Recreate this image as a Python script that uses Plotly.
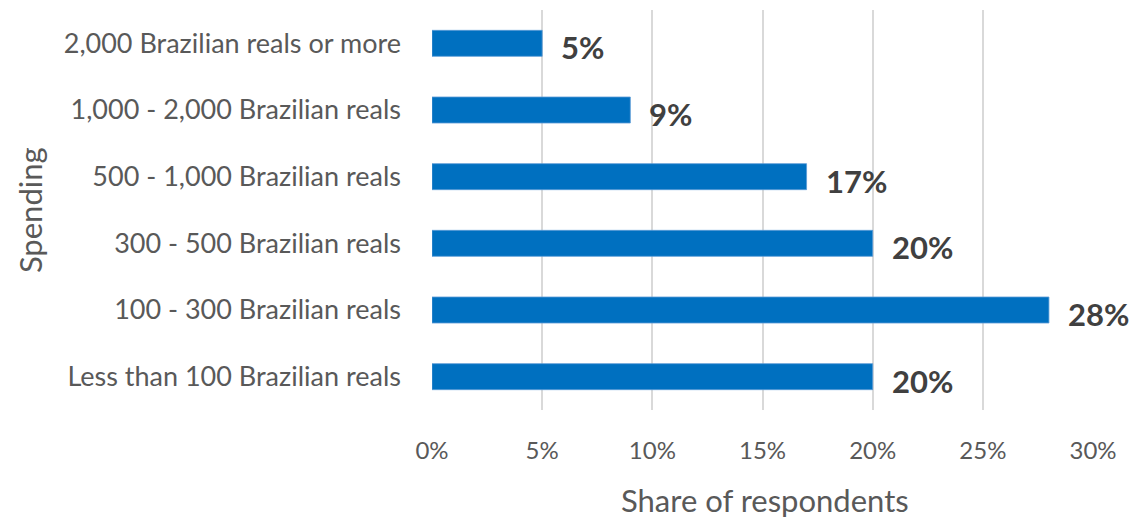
import plotly.graph_objects as go

categories = [
    "Less than 100 Brazilian reals",
    "100 - 300 Brazilian reals",
    "300 - 500 Brazilian reals",
    "500 - 1,000 Brazilian reals",
    "1,000 - 2,000 Brazilian reals",
    "2,000 Brazilian reals or more",
]
values = [20, 28, 20, 17, 9, 5]
tick_vals = [0, 5, 10, 15, 20, 25, 30]
tick_text = ["0%", "5%", "10%", "15%", "20%", "25%", "30%"]

FONT = "Lato"

fig = go.Figure(go.Bar(
    x=values, y=categories, orientation="h",
    marker=dict(color="#0070C0", line=dict(color="#5B9BD5", width=0.8)),
    width=0.39,
))

for v, c in zip(values, categories):
    fig.add_annotation(x=v, y=c, text=f"<b>{v}%</b>", showarrow=False,
                       xanchor="left", xshift=17, yshift=-4,
                       font=dict(family=FONT, size=31, color="#404040"))

fig.add_annotation(xref="paper", yref="paper", x=0.504, y=-0.225,
                   xanchor="center", yanchor="middle", showarrow=False,
                   text="Share of respondents",
                   font=dict(family=FONT, size=31, color="#595959"))
fig.add_annotation(xref="paper", yref="paper", x=-0.608, y=0.5,
                   xanchor="center", yanchor="middle", showarrow=False,
                   text="Spending", textangle=-90,
                   font=dict(family=FONT, size=31, color="#595959"))

fig.update_layout(
    width=1130, height=511,
    margin=dict(l=424, r=45, t=2, b=109),
    plot_bgcolor="white", paper_bgcolor="white",
    showlegend=False,
    font=dict(family=FONT, color="#595959"),
    xaxis=dict(range=[0, 30], tickvals=tick_vals, ticktext=tick_text,
               showgrid=True, gridcolor="#D9D9D9", gridwidth=2,
               zeroline=False, tickfont=dict(size=24, color="#595959"),
               ticks="", ticklabelstandoff=24, automargin=False),
    yaxis=dict(tickfont=dict(size=27, color="#595959"), ticks="",
               ticklabelstandoff=30, automargin=False),
)

fig.write_html("out.html")
